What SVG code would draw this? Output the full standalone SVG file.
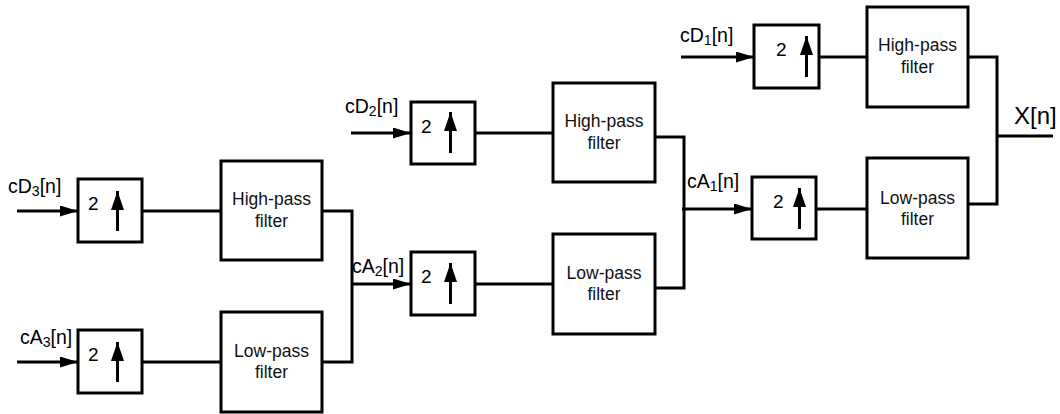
<svg xmlns="http://www.w3.org/2000/svg" width="1060" height="414" viewBox="0 0 1060 414">
<style>
.box{fill:#fff;stroke:#000;stroke-width:3}
.ln{fill:none;stroke:#000;stroke-width:3}
.arr{fill:none;stroke:#000;stroke-width:3;marker-end:url(#ah)}
.up{fill:none;stroke:#000;stroke-width:3;marker-end:url(#uh)}
.ft{font-family:"Liberation Sans",Arial,sans-serif;font-size:17.5px;fill:#111;text-anchor:middle}
.two{font-family:"Liberation Sans",Arial,sans-serif;font-size:19px;fill:#000}
.lbl{font-family:"Liberation Sans",Arial,sans-serif;font-size:19.5px;fill:#000}
.sub{font-size:14px}
</style>
<defs>
<marker id="ah" markerUnits="userSpaceOnUse" markerWidth="18" markerHeight="11" refX="18" refY="5.5" orient="auto">
<path d="M0,0 L18,5.5 L0,11 z" fill="#000"/>
</marker>
<marker id="uh" markerUnits="userSpaceOnUse" markerWidth="19" markerHeight="13" refX="19" refY="6.5" orient="auto">
<path d="M0,0 L19,6.5 L0,13 z" fill="#000"/>
</marker>
</defs>

<g id="connectors">
<line class="arr" x1="17" y1="211" x2="78" y2="211"/>
<line class="arr" x1="17" y1="362" x2="78" y2="362"/>
<line class="ln" x1="142" y1="211" x2="221" y2="211"/>
<line class="ln" x1="142" y1="362" x2="221" y2="362"/>
<polyline class="ln" points="322,211 352,211 352,362 322,362"/>
<line class="arr" x1="352" y1="284" x2="411" y2="284"/>
<line class="arr" x1="351" y1="133" x2="411" y2="133"/>
<line class="ln" x1="475" y1="133" x2="553" y2="133"/>
<line class="ln" x1="475" y1="284" x2="553" y2="284"/>
<polyline class="ln" points="655,137 684,137 684,288 655,288"/>
<line class="arr" x1="682" y1="209" x2="752" y2="209"/>
<line class="arr" x1="681" y1="57" x2="754" y2="57"/>
<line class="ln" x1="819" y1="57" x2="867" y2="57"/>
<line class="ln" x1="816" y1="209" x2="867" y2="209"/>
<polyline class="ln" points="968,57 997,57 997,204 968,204"/>
<line class="ln" x1="997" y1="136" x2="1053" y2="136"/>
</g>

<g id="up3d">
<rect class="box" x="78" y="179" width="64" height="63"/>
<text class="two" x="88" y="210">2</text>
<line class="up" x1="117.5" y1="231" x2="117.5" y2="191"/>
</g>
<g id="up3a">
<rect class="box" x="78" y="330" width="64" height="63"/>
<text class="two" x="88" y="361">2</text>
<line class="up" x1="117.5" y1="382" x2="117.5" y2="342"/>
</g>
<g id="hpf3">
<rect class="box" x="221" y="161" width="101" height="99"/>
<text class="ft" x="271.5" y="205">High-pass</text>
<text class="ft" x="271.5" y="227">filter</text>
</g>
<g id="lpf3">
<rect class="box" x="221" y="312" width="101" height="100"/>
<text class="ft" x="271.5" y="357">Low-pass</text>
<text class="ft" x="271.5" y="378">filter</text>
</g>

<g id="up2d">
<rect class="box" x="411" y="102" width="64" height="62"/>
<text class="two" x="421" y="133">2</text>
<line class="up" x1="450.5" y1="153" x2="450.5" y2="112"/>
</g>
<g id="up2a">
<rect class="box" x="411" y="252" width="64" height="63"/>
<text class="two" x="421" y="283">2</text>
<line class="up" x1="450.5" y1="304" x2="450.5" y2="263"/>
</g>
<g id="hpf2">
<rect class="box" x="553" y="83" width="102" height="99"/>
<text class="ft" x="604" y="127">High-pass</text>
<text class="ft" x="604" y="149">filter</text>
</g>
<g id="lpf2">
<rect class="box" x="553" y="234" width="102" height="100"/>
<text class="ft" x="604" y="279">Low-pass</text>
<text class="ft" x="604" y="300">filter</text>
</g>

<g id="up1d">
<rect class="box" x="754" y="25" width="65" height="63"/>
<text class="two" x="776" y="56">2</text>
<line class="up" x1="806.5" y1="77" x2="806.5" y2="36"/>
</g>
<g id="up1a">
<rect class="box" x="752" y="177" width="64" height="62"/>
<text class="two" x="773" y="208">2</text>
<line class="up" x1="799.5" y1="229" x2="799.5" y2="188"/>
</g>
<g id="hpf1">
<rect class="box" x="867" y="7" width="101" height="100"/>
<text class="ft" x="917.5" y="51">High-pass</text>
<text class="ft" x="917.5" y="73">filter</text>
</g>
<g id="lpf1">
<rect class="box" x="867" y="158" width="101" height="100"/>
<text class="ft" x="917.5" y="204">Low-pass</text>
<text class="ft" x="917.5" y="225">filter</text>
</g>

<g id="labels">
<text class="lbl" x="8" y="193">cD<tspan class="sub" dy="3">3</tspan><tspan dy="-3">[n]</tspan></text>
<text class="lbl" x="20" y="344">cA<tspan class="sub" dy="3">3</tspan><tspan dy="-3">[n]</tspan></text>
<text class="lbl" x="345" y="113">cD<tspan class="sub" dy="3">2</tspan><tspan dy="-3">[n]</tspan></text>
<text class="lbl" x="352" y="273">cA<tspan class="sub" dy="3">2</tspan><tspan dy="-3">[n]</tspan></text>
<text class="lbl" x="680" y="42">cD<tspan class="sub" dy="3">1</tspan><tspan dy="-3">[n]</tspan></text>
<text class="lbl" x="687" y="188">cA<tspan class="sub" dy="3">1</tspan><tspan dy="-3">[n]</tspan></text>
<text class="lbl" x="1014" y="124" style="font-size:24px">X[n]</text>
</g>
</svg>
